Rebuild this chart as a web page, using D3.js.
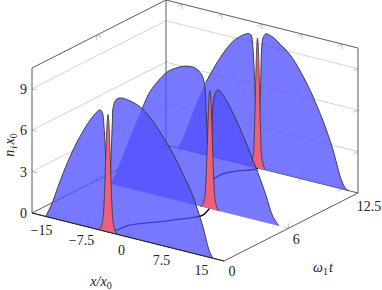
<!DOCTYPE html>
<html>
<head>
<meta charset="utf-8">
<script src="https://cdn.jsdelivr.net/npm/d3@7"></script>
<style>
  html, body { margin: 0; padding: 0; background: #fff; }
  text { font-family: "Liberation Serif", serif; font-size: 14px; fill: #222; }
</style>
</head>
<body>
<div id="canvas"></div>
<script>
const xTicks = [-15, -7.5, 0, 7.5, 15];
const tTicks = [0, 6, 12.5];
const zTicks = [3, 6, 9];
const zLabels = [0, 3, 6, 9];

const times = [12.5, 6, 0];

// ion density, one profile per time
const blueX0 = [-15.43, -14.3, -13.1, -11.25, -9.38, -6.75, -5.25, -4.8, -4.5, -4.3, -4.1, -3.9, -3.75, -3.5, -3.3, -2.94, -2.76, -2.1, -1.18, 0, 2.25, 4.13, 6.56, 8.44, 10.3, 12, 12.94, 14.06, 15, 15.5, 15.94];
const blueZ0 = [0, 1, 2.4, 4.4, 6.1, 8, 8.7, 8.54, 7.56, 6.4, 4, 1.5, 0, 1.5, 4, 7.97, 9.17, 9.8, 9.95, 9.92, 9.65, 9.05, 7.9, 6.85, 5.55, 4.3, 3.35, 2.1, 0.75, 0.25, 0];
const blueX6 = [-15.43, -14.87, -12.8, -10.75, -9.5, -7.93, -4.8, -3.6, -1.37, 0.5, 1.76, 2.2, 2.44, 2.57, 2.76, 3, 3.3, 3.6, 3.88, 4.44, 4.88, 6.45, 8.94, 11.38, 12.7, 13.8, 15.08, 16.25];
const blueZ6 = [0, 0.4, 2.5, 4.7, 5.9, 7.4, 9.1, 9.45, 9.88, 9.93, 9.55, 9.1, 8.4, 7.09, 5.65, 2, 0, 3, 7.57, 8.6, 8.76, 8.1, 6.35, 4.3, 3.1, 2, 0.6, 0];
const blueX12 = [-15.94, -15.4, -14.06, -12.56, -10.6, -7.7, -5.25, -2.68, -2.06, -1.74, -1.56, -1.31, -1.1, -0.84, -0.6, -0.3, -0.06, 0.19, 0.69, 1.82, 2.94, 5.44, 8.57, 10.44, 11.5, 12.94, 13.3, 14.94, 15.75, 16.3];
const blueZ12 = [0, 0.3, 1.6, 3.3, 5.2, 7.4, 8.8, 9.55, 9.51, 8.8, 7.75, 5.6, 2.5, 0, 2.5, 5.5, 8.76, 9.5, 9.85, 9.78, 9.5, 8.7, 6.9, 5.45, 4.55, 3.1, 2.7, 0.6, 0.08, 0];

const redX0 = [-5.55, -5.25, -4.85, -4.6, -4.4, -4.25, -4.05, -3.87, -3.75, -3.63, -3.45, -3.25, -3.1, -2.9, -2.65, -2.25, -1.95];
const redZ0 = [0, 0.1, 0.5, 1.2, 2.8, 4.5, 6.8, 8.2, 8.5, 8.2, 6.8, 4.5, 2.8, 1.2, 0.5, 0.1, 0];
const redX6 = [1.5, 1.8, 2.2, 2.45, 2.65, 2.8, 3, 3.18, 3.3, 3.42, 3.6, 3.8, 3.95, 4.15, 4.4, 4.8, 5.1];
const redZ6 = [0, 0.1, 0.5, 1.2, 2.8, 4.5, 6.8, 8.3, 8.57, 8.3, 6.8, 4.5, 2.8, 1.2, 0.5, 0.1, 0];
const redX12 = [-2.4, -2.15, -1.8, -1.55, -1.4, -1.28, -1.12, -0.96, -0.84, -0.72, -0.56, -0.4, -0.28, -0.13, 0.12, 0.47, 0.72];
const redZ12 = [0, 0.1, 0.5, 1.2, 2.8, 4.7, 7.3, 9, 9.4, 9, 7.3, 4.7, 2.8, 1.2, 0.5, 0.1, 0];

// outline starts here, the lower left flank is not outlined behind the front sheets
const outlineFrom = [-10.6, -9.5, -15.43];

// centre of the condensate on the floor
const pathT = [0, 0.5, 1.5, 2.9, 4.25, 4.7, 5, 5.95, 7, 8, 9, 9.65, 10.5, 11.3, 12.35, 12.5];
const pathX = [-3.75, -3.15, -2.72, 0.23, 3.07, 3.8, 3.97, 3.24, 1.9, -0.3, -2.6, -3.43, -3.79, -2.97, -0.67, -0.84];

const blues = [[blueX12, blueZ12], [blueX6, blueZ6], [blueX0, blueZ0]];
const reds = [[redX12, redZ12], [redX6, redZ6], [redX0, redZ0]];

const width = 382;
const height = 290;
const origin = { left: 32, top: 213 };

const svg = d3.select("#canvas").append("svg")
  .attr("width", width)
  .attr("height", height)
  .style("display", "block");

// oblique projection, each data axis moves the pixel along its own direction
const xToPx = d3.scaleLinear().domain([-18, 18]).range([0, 192]);
const xToPy = d3.scaleLinear().domain([-18, 18]).range([0, 48]);
const tToPx = d3.scaleLinear().domain([0, 12.5]).range([0, 134]);
const tToPy = d3.scaleLinear().domain([0, 12.5]).range([0, -68]);
const zToPy = d3.scaleLinear().domain([0, 10.5]).range([0, -145]);

function project(x, t, z) {
  return [origin.left + xToPx(x) + tToPx(t), origin.top + xToPy(x) + tToPy(t) + zToPy(z)];
}

const peakLine = d3.line().curve(d3.curveMonotoneX);
const sheetLine = d3.line().curve(d3.curveCatmullRom.alpha(0.5));
const plainLine = d3.line();

const frameColor = "#333";

function seg(a, b, color, w) {
  svg.append("path")
    .attr("d", plainLine([a, b]))
    .attr("fill", "none")
    .attr("stroke", color)
    .attr("stroke-width", w);
}

// grid on the two back walls
zTicks.forEach(z => {
  seg(project(-18, 0, z), project(-18, 12.5, z), "#c8c8c8", 0.8);
  seg(project(-18, 12.5, z), project(18, 12.5, z), "#c8c8c8", 0.8);
});

// frame
const zTop = 10.5;
[
  [[-18, 0, 0], [18, 0, 0]],
  [[18, 0, 0], [18, 12.5, 0]],
  [[-18, 0, 0], [-18, 12.5, 0]],
  [[-18, 12.5, 0], [18, 12.5, 0]],
  [[-18, 0, 0], [-18, 0, zTop]],
  [[18, 12.5, 0], [18, 12.5, zTop]],
  [[-18, 12.5, 0], [-18, 12.5, zTop]],
  [[-18, 0, zTop], [-18, 12.5, zTop]],
  [[-18, 12.5, zTop], [18, 12.5, zTop]]
].forEach(e => seg(project(...e[0]), project(...e[1]), frameColor, 0.8));

// tick stubs point into the box
const stub = 5;
function tick(p, dirs) {
  dirs.forEach(d => seg(p, [p[0] + d[0] * stub, p[1] + d[1] * stub], "#777", 0.5));
}
const up = [0, -1], down = [0, 1];
const alongX = [0.97, 0.24], backT = [0.89, -0.45], foreT = [-0.89, 0.45], backX = [-0.97, -0.24];
xTicks.forEach(x => {
  tick(project(x, 0, 0), [up, backT]);
  tick(project(x, 12.5, 0), [up, foreT]);
  tick(project(x, 12.5, zTop), [down, foreT]);
});
tTicks.slice(1, 2).forEach(t => {
  tick(project(18, t, 0), [up, backX]);
  tick(project(-18, t, 0), [up, alongX]);
  tick(project(-18, t, zTop), [down, alongX]);
});
zTicks.forEach(z => {
  tick(project(-18, 0, z), [alongX]);
  tick(project(18, 12.5, z), [foreT]);
});

const blueFill = "#5050ff";
const redFill = "#ee607a";

const trajectory = pathT.map((t, i) => project(pathX[i], t, 0));

times.forEach((t, k) => {
  const pts = blues[k][0].map((x, i) => project(x, t, blues[k][1][i]));

  svg.append("path")
    .attr("d", sheetLine(pts) + "Z")
    .attr("fill", blueFill)
    .attr("fill-opacity", 0.77)
    .attr("stroke", "none");

  const outlined = blues[k][0]
    .map((x, i) => [x, blues[k][1][i]])
    .filter(d => d[0] >= outlineFrom[k])
    .map(d => project(d[0], t, d[1]));

  svg.append("path")
    .attr("d", sheetLine(outlined))
    .attr("fill", "none")
    .attr("stroke", frameColor)
    .attr("stroke-width", 0.9);

  const redPts = reds[k][0].map((x, i) => project(x, t, reds[k][1][i]));
  svg.append("path")
    .attr("d", peakLine(redPts) + "Z")
    .attr("fill", redFill)
    .attr("stroke", "none");
  svg.append("path")
    .attr("d", peakLine(redPts))
    .attr("fill", "none")
    .attr("stroke", frameColor)
    .attr("stroke-width", 0.8);

  // floor curve goes between the sheets so it shows through them
  if (t === 12.5) {
    svg.append("path")
      .attr("d", sheetLine(trajectory.filter((p, i) => pathT[i] >= 5.95)))
      .attr("fill", "none").attr("stroke", "#000").attr("stroke-width", 1.3);
  }
  if (t === 6) {
    svg.append("path")
      .attr("d", sheetLine(trajectory.filter((p, i) => pathT[i] <= 5.95)))
      .attr("fill", "none").attr("stroke", "#000").attr("stroke-width", 1.3);
  }
});

// front edge again, above the sheets
seg(project(-18, 0, 0), project(18, 0, 0), "#222", 1);

// tick labels
xTicks.forEach(x => {
  const p = project(x, 0, 0);
  svg.append("text").attr("x", p[0] - 6.5).attr("y", p[1] + 17.5)
    .attr("text-anchor", "middle")
    .text(String(x).replace("-", "\u2212"));
});
tTicks.forEach(t => {
  const p = project(18, t, 0);
  svg.append("text").attr("x", p[0] + (t === 12.5 ? 11 : 8)).attr("y", p[1] + (t === 6 ? 16 : t === 0 ? 15 : 18))
    .attr("text-anchor", "middle")
    .text(t);
});
zLabels.forEach(z => {
  const p = project(-18, 0, z);
  svg.append("text").attr("x", p[0] - 5).attr("y", p[1] + 5)
    .attr("text-anchor", "end")
    .text(z);
});

// axis titles
function title(x, y, parts, rotate) {
  const el = svg.append("text")
    .attr("text-anchor", "middle")
    .attr("transform", `translate(${x},${y})` + (rotate ? ` rotate(${rotate})` : ""));
  parts.forEach(d => {
    el.append("tspan")
      .attr("font-style", d.plain ? "normal" : "italic")
      .attr("font-size", d.sub ? 10 : 14)
      .attr("dy", d.sub ? 3 : d.after ? -3 : 0)
      .attr("dx", d.gap || 0)
      .text(d.s);
  });
}
title(101, 286, [{ s: "x/x" }, { s: "0", sub: true, plain: true }]);
title(323, 272, [{ s: "\u03c9" }, { s: "1", sub: true, plain: true }, { s: "t", after: true, gap: 1 }]);
title(14, 145, [{ s: "n" }, { s: "i", sub: true, gap: 1 }, { s: "x", after: true, gap: 1.5 }, { s: "0", sub: true, plain: true }], -90);
</script>
</body>
</html>
